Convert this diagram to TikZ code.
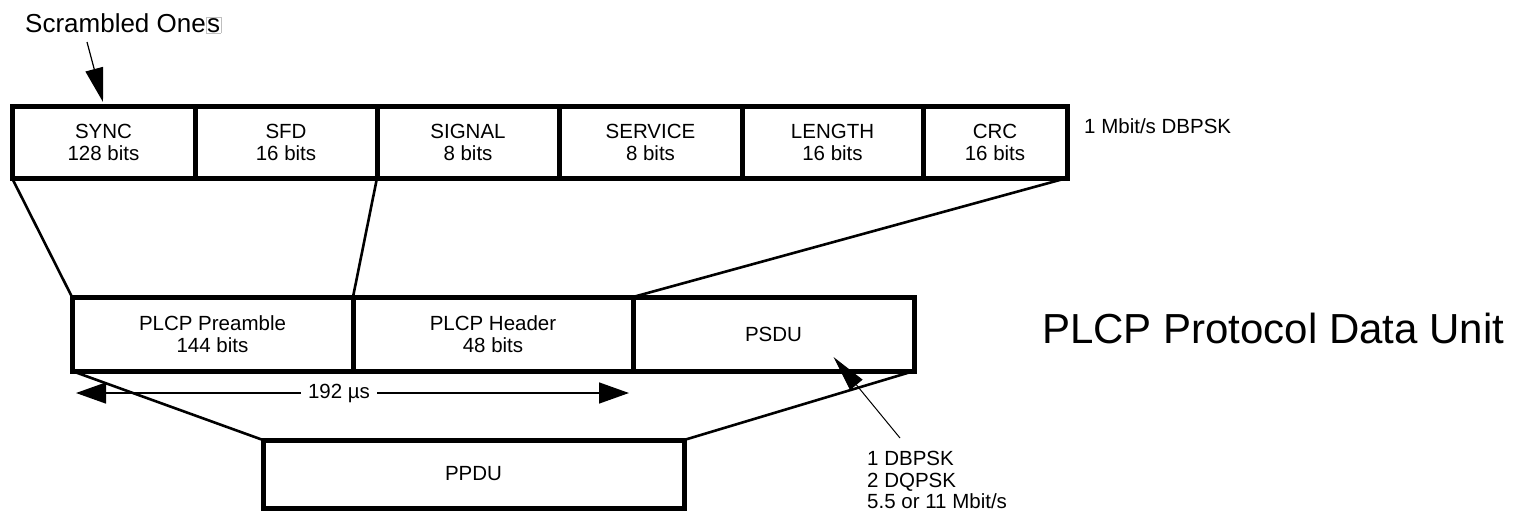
\documentclass[tikz,border=0pt]{standalone}
\usepackage{fontspec}
\setmainfont{Liberation Sans}
\usetikzlibrary{positioning, arrows.meta}

\newcommand{\cellfont}{\fontsize{20.5pt}{22pt}\selectfont}
\newcommand{\boxeds}{{\setlength{\fboxsep}{0.5pt}\setlength{\fboxrule}{0.8pt}\fcolorbox{gray!50}{white}{s}}}

\begin{document}
\begin{tikzpicture}[
    x=1pt, y=-1pt,
    cell/.style={draw, rectangle, line width=5pt, inner sep=0pt, outer sep=0pt, minimum height=72pt, align=center, font=\cellfont},
    midcell/.style={cell, minimum height=74pt},
    link/.style={line width=2.6pt},
    dimarrow/.style={line width=1.5pt, -{Triangle[length=30pt, width=21pt]}},
    pointer/.style={line width=1.2pt, -{Triangle[length=34pt, width=18pt]}},
    note/.style={inner sep=0pt, font=\cellfont, align=left}
]
\useasboundingbox (0,0) rectangle (1513,512);

% Header fields
\node[cell, minimum width=183pt] (sync) at (103.5,142) {SYNC\\128 bits};
\node[cell, minimum width=182pt, right=0pt of sync] (sfd) {SFD\\16 bits};
\node[cell, minimum width=182pt, right=0pt of sfd] (signal) {SIGNAL\\8 bits};
\node[cell, minimum width=183pt, right=0pt of signal] (service) {SERVICE\\8 bits};
\node[cell, minimum width=181pt, right=0pt of service] (length) {LENGTH\\16 bits};
\node[cell, minimum width=144pt, right=0pt of length] (crc) {CRC\\16 bits};

% PLCP frame
\node[midcell, minimum width=281pt] (pre) at (212.5,334) {PLCP Preamble\\144 bits};
\node[midcell, minimum width=280pt, right=0pt of pre] (hdr) {PLCP Header\\48 bits};
\node[midcell, minimum width=281pt, right=0pt of hdr] (psdu) {PSDU};

% PPDU
\node[cell, minimum width=421pt, minimum height=68pt] (ppdu) at (473.5,474) {PPDU};

% Fan lines
\draw[link] (sync.south west) -- (pre.north west);
\draw[link] (sfd.south east) -- (pre.north east);
\draw[link] (crc.south east) -- (psdu.north west);
\draw[link] (pre.south west) -- (ppdu.north west);
\draw[link] (psdu.south east) -- (ppdu.north east);

% Labels
\node[note, anchor=base west, font=\fontsize{26pt}{28pt}\selectfont] (scr) at (25,32) {Scrambled One\boxeds};
\coordinate (scrtail) at (87,42);
\draw[pointer] (scrtail) -- ([xshift=91pt, yshift=4pt]sync.north west);

\node[note, anchor=base west] (rate) at (1084,133) {1 Mbit/s DBPSK};
\node[note, anchor=base west, font=\fontsize{42pt}{46pt}\selectfont] (title) at (1042,343) {PLCP Protocol Data Unit};

% 192 us span
\coordinate (dimL) at (76,393);
\coordinate (dimR) at (629,393);
\node[fill=white, inner sep=7pt, font=\cellfont] (dimlbl) at (339,393) {192 µs};
\draw[dimarrow] (dimlbl) -- (dimL);
\draw[dimarrow] (dimlbl) -- (dimR);

% PSDU rates
\node[note, anchor=north west, font=\fontsize{20.5pt}{21.5pt}\selectfont] (mod) at (867,451) {1 DBPSK\\2 DQPSK\\5.5 or 11 Mbit/s};
\coordinate (modtail) at (900,438);
\draw[line width=1pt, -{Triangle[length=36pt, width=16pt]}] (modtail) -- ([xshift=60pt, yshift=14pt]psdu.south);

\end{tikzpicture}
\end{document}
